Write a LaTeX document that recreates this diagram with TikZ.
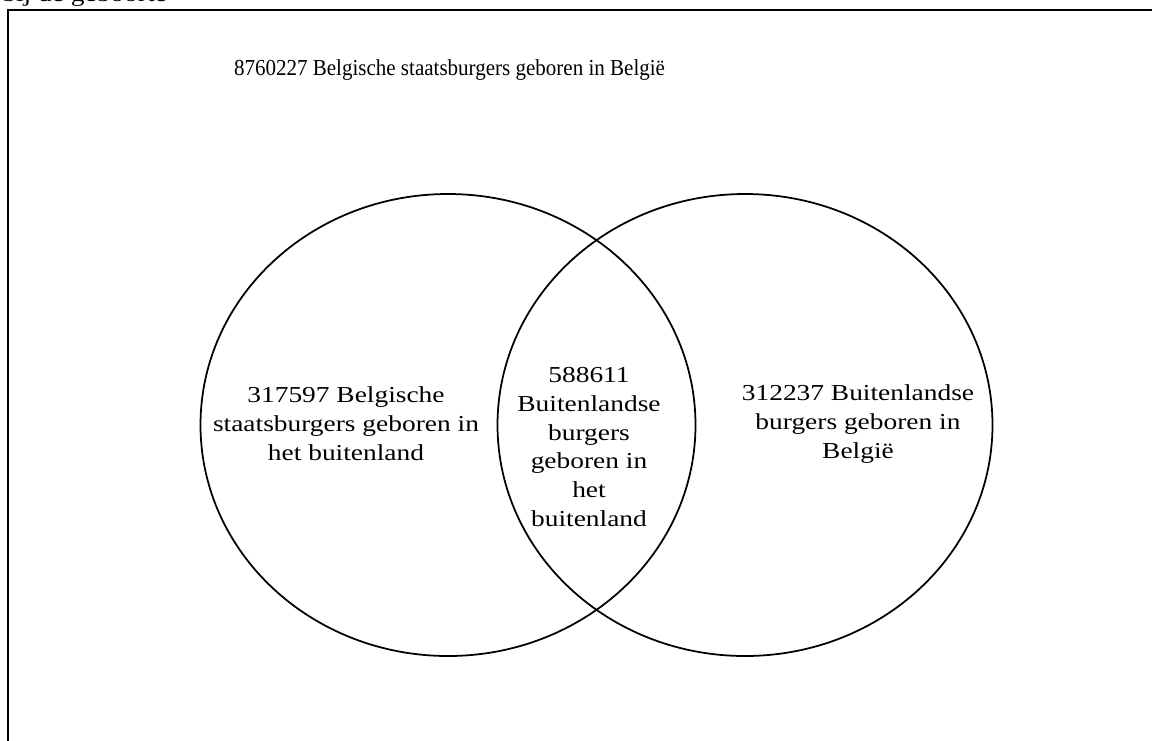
\documentclass[tikz,border=0pt]{standalone}
\usepackage{fontspec}
\setmainfont{Liberation Serif}
\newfontfamily\widefont[FakeStretch=1.2]{Liberation Serif}
\newfontfamily\narrowfont[FakeStretch=0.92]{Liberation Serif}
\usepackage{tikz}
\usetikzlibrary{
  positioning,
  shapes.geometric
}

\begin{document}
\begin{tikzpicture}[
    set/.style={ellipse, draw, line width=1pt, minimum width=9.9cm, minimum height=9.24cm, inner sep=0pt},
    lbl/.style={font=\widefont\fontsize{13}{16.5}\selectfont, align=center, inner sep=0pt},
    ttl/.style={font=\narrowfont\fontsize{13}{15}\selectfont, inner sep=0pt},
    frm/.style={draw, line width=1pt}
  ]
    \clip (0,0) rectangle (23.04,-14.8);
    \useasboundingbox (0,0) rectangle (23.04,-14.8);
    \node[lbl, anchor=base west] (head) at (0.04,-0.03) {bij de geboorte};
    \draw[frm] (0.16,-15.2) -- (0.16,-0.2) -- (23.3,-0.2);
    \node[ttl] (all) at (8.99,-1.4) {8760227 Belgische staatsburgers geboren in België};
    \node[set] (belg) at (8.96,-8.5) {};
    \node[set] (born) at (14.9,-8.5) {};
    \node[lbl] (lft) at (6.92,-8.48)
      {317597 Belgische\\ staatsburgers geboren in\\ het buitenland};
    \node[lbl] (mid) at (11.78,-8.94)
      {588611\\ Buitenlandse\\ burgers\\ geboren in\\ het\\ buitenland};
    \node[lbl] (rgt) at (17.16,-8.48)
      {312237 Buitenlandse\\ burgers geboren in\\ België};
  \end{tikzpicture}
\end{document}
